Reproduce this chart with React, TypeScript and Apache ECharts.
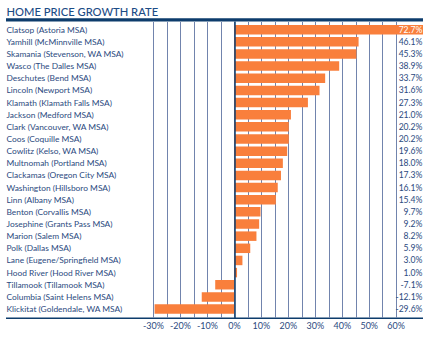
import React, { useEffect, useRef } from "react";
import * as echarts from "echarts";

const categories = [
  "Clatsop (Astoria MSA)",
  "Yamhill (McMinnville MSA)",
  "Skamania (Stevenson, WA MSA)",
  "Wasco (The Dalles MSA)",
  "Deschutes (Bend MSA)",
  "Lincoln (Newport MSA)",
  "Klamath (Klamath Falls MSA)",
  "Jackson (Medford MSA)",
  "Clark (Vancouver, WA MSA)",
  "Coos (Coquille MSA)",
  "Cowlitz (Kelso, WA MSA)",
  "Multnomah (Portland MSA)",
  "Clackamas (Oregon City MSA)",
  "Washington (Hillsboro MSA)",
  "Linn (Albany MSA)",
  "Benton (Corvallis MSA)",
  "Josephine (Grants Pass MSA)",
  "Marion (Salem MSA)",
  "Polk (Dallas MSA)",
  "Lane (Eugene/Springfield MSA)",
  "Hood River (Hood River MSA)",
  "Tillamook (Tillamook MSA)",
  "Columbia (Saint Helens MSA)",
  "Klickitat (Goldendale, WA MSA)",
];

const growth = [
  72.7, 46.1, 45.3, 38.9, 33.7, 31.6, 27.3, 21.0, 20.2, 20.2, 19.6, 18.0, 17.3,
  16.1, 15.4, 9.7, 9.2, 8.2, 5.9, 3.0, 1.0, -7.1, -12.1, -29.6,
];

const tickMin = -30;
const tickMax = 60;
const tickStep = 5;
const labelStep = 10;
const axisEnd = 70;

const title = "HOME PRICE GROWTH RATE";

const NAVY = "#0d3c6c";
const TEXT = "#2b4a80";
const ORANGE = "#f97f3c";
const GRID = "#7184ad";
const FONT = "Lato, 'Open Sans', sans-serif";

export default function App() {
  const ref = useRef<HTMLDivElement>(null);
  useEffect(() => {
    document.body.style.margin = "0";
    if (!ref.current) return;
    const chart = echarts.init(ref.current, null, { renderer: "svg" });
    const valueLabels = growth.map((v) => ({
      value: v.toFixed(1) + "%",
      textStyle: { color: v > axisEnd - 5 ? "#ffffff" : TEXT },
    }));
    chart.setOption({
      animation: false,
      textStyle: { fontFamily: FONT },
      grid: [
        { left: 153.5, right: 8, top: 23.6, bottom: 23.9, containLabel: false },
        { left: 153.5, right: 34.8, top: 22, bottom: 21, containLabel: false },
      ],
      xAxis: [
        { gridIndex: 0, type: "value", min: tickMin, max: axisEnd, show: false },
        {
          gridIndex: 1,
          type: "value",
          min: tickMin,
          max: tickMax,
          interval: tickStep,
          axisLine: { show: false },
          axisTick: { show: false },
          splitLine: { show: true, lineStyle: { color: GRID, width: 1 } },
          axisLabel: {
            margin: 3,
            fontSize: 9,
            color: TEXT,
            fontFamily: FONT,
            formatter: (v: number) => (v % labelStep === 0 ? v + "%" : ""),
          },
        },
      ],
      yAxis: [
        {
          gridIndex: 0,
          type: "category",
          inverse: true,
          data: categories,
          position: "left",
          axisLine: { show: false, onZero: false },
          axisTick: { show: false },
          splitLine: { show: false },
          axisLabel: {
            align: "left",
            margin: 147,
            fontSize: 8.4,
            color: TEXT,
            fontFamily: FONT,
          },
        },
        {
          gridIndex: 0,
          type: "category",
          inverse: true,
          data: valueLabels,
          position: "right",
          z: 10,
          axisLine: { show: false, onZero: false },
          axisTick: { show: false },
          splitLine: { show: false },
          axisLabel: {
            inside: true,
            margin: 0.5,
            fontSize: 8.6,
            color: TEXT,
            fontFamily: FONT,
          },
        },
        {
          gridIndex: 1,
          type: "value",
          min: 0,
          max: 1,
          axisLine: { show: true, onZero: true, lineStyle: { color: NAVY, width: 1.5 } },
          axisTick: { show: false },
          axisLabel: { show: false },
          splitLine: { show: false },
          z: 5,
        },
      ],
      series: [
        {
          type: "bar",
          xAxisIndex: 0,
          yAxisIndex: 0,
          data: growth,
          barWidth: 9.5,
          itemStyle: { color: ORANGE },
          clip: true,
        },
        {
          type: "scatter",
          xAxisIndex: 1,
          yAxisIndex: 2,
          data: [],
        },
      ],
      graphic: [
        {
          type: "text",
          x: 6.5,
          y: 11.3,
          style: {
            text: title,
            fill: "#1c4c86",
            font: `500 11.2px ${FONT}`,
            verticalAlign: "middle",
          },
        },
        {
          type: "rect",
          shape: { x: 6, y: 18.2, width: 417, height: 3.4 },
          style: { fill: NAVY },
        },
        {
          type: "line",
          shape: { x1: 6, y1: 318.3, x2: 423, y2: 318.3 },
          style: { stroke: NAVY, lineWidth: 1.5 },
        },
      ],
    });
    return () => chart.dispose();
  }, []);
  return <div ref={ref} style={{ width: 431, height: 339 }} />;
}
